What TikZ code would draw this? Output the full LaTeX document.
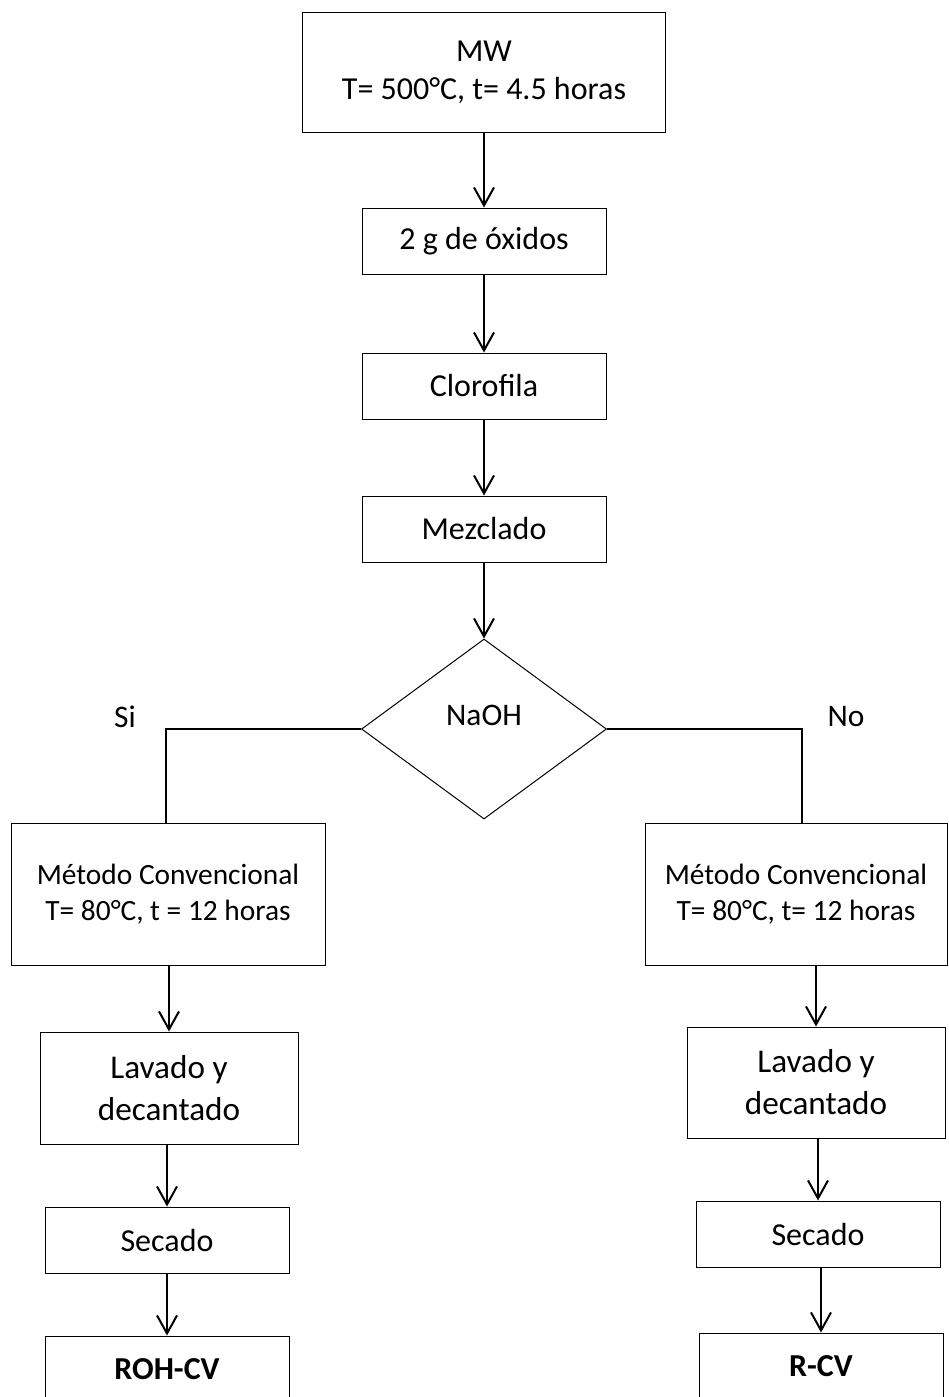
\documentclass[tikz,border=0pt]{standalone}
\usepackage{fontspec}
\setmainfont{Carlito}
\usepackage{tikz}
\usetikzlibrary{shapes.geometric, arrows.meta, positioning}

\tikzset{
    caja/.style={draw, line width=0.5pt, align=center, inner sep=0pt,
        minimum width=122pt, minimum height=33pt,
        font=\fontsize{16}{19}\selectfont},
    rotulo/.style={font=\fontsize{15.7}{19}\selectfont},
    flecha/.style={line width=1pt, -{Straight Barb[length=9pt,width=10pt]}},
    rama/.style={line width=1pt},
}

\begin{document}
\begin{tikzpicture}[x=0.5pt, y=0.5pt]
    \useasboundingbox (0,0) rectangle (948,-1397);

    % Central column
    \node[caja, minimum width=181.5pt, minimum height=60pt] (mw) at (484,-72) {MW\\T= 500°C, t= 4.5 horas};
    \node[caja] (oxidos) at (484,-241) {2 g de óxidos};
    \node[caja] (clorofila) at (484,-386) {Clorofila};
    \node[caja] (mezclado) at (484,-529) {Mezclado};
    \node[draw, diamond, line width=0.5pt, inner sep=0pt, minimum width=122.5pt, minimum height=90pt,
        rotulo] (naoh) at (484,-729) {\raisebox{2pt}[0pt][0pt]{NaOH}};

    % Branch labels
    \node[rotulo] (si) at (125,-717) {Si};
    \node[rotulo] (no) at (846,-717) {No};

    % Left branch (Si)
    \node[caja, minimum width=157pt, minimum height=71pt, font=\fontsize{14.7}{18}\selectfont] (metodoSi) at (168,-894) {Método Convencional\\T= 80°C, t = 12 horas};
    \node[caja, minimum width=129pt, minimum height=56pt, font=\fontsize{16.6}{21}\selectfont] (lavadoSi) at (169,-1088) {Lavado y\\decantado};
    \node[caja] (secadoSi) at (167,-1240) {Secado};
    \node[caja, font=\fontsize{16}{19}\selectfont\bfseries] (rohcv) at (167,-1369) {ROH-CV};

    % Right branch (No)
    \node[caja, minimum width=151pt, minimum height=71pt, font=\fontsize{14.7}{18}\selectfont] (metodoNo) at (796,-894) {Método Convencional\\T= 80°C, t= 12 horas};
    \node[caja, minimum width=129pt, minimum height=55.5pt, font=\fontsize{16.6}{21}\selectfont] (lavadoNo) at (816,-1082.5) {Lavado y\\decantado};
    \node[caja] (secadoNo) at (818,-1234) {Secado};
    \node[caja, font=\fontsize{16}{19}\selectfont\bfseries] (rcv) at (821,-1366) {R-CV};

    % Connectors
    \draw[flecha] (mw) -- (oxidos);
    \draw[flecha] (oxidos) -- (clorofila);
    \draw[flecha] (clorofila) -- (mezclado);
    \draw[flecha] (mezclado) -- (naoh);
    \draw[rama] (naoh.west) -| ([xshift=-1pt]metodoSi.north);
    \draw[rama] (naoh.east) -| ([xshift=3pt]metodoNo.north);

    \draw[flecha] (metodoSi.south -| lavadoSi.north) -- (lavadoSi.north);
    \draw[flecha] (lavadoSi.south -| secadoSi.north) -- (secadoSi.north);
    \draw[flecha] (secadoSi.south -| rohcv.north) -- (rohcv.north);

    \draw[flecha] (metodoNo.south -| lavadoNo.north) -- (lavadoNo.north);
    \draw[flecha] (lavadoNo.south -| secadoNo.north) -- (secadoNo.north);
    \draw[flecha] (secadoNo.south -| rcv.north) -- (rcv.north);
\end{tikzpicture}
\end{document}
